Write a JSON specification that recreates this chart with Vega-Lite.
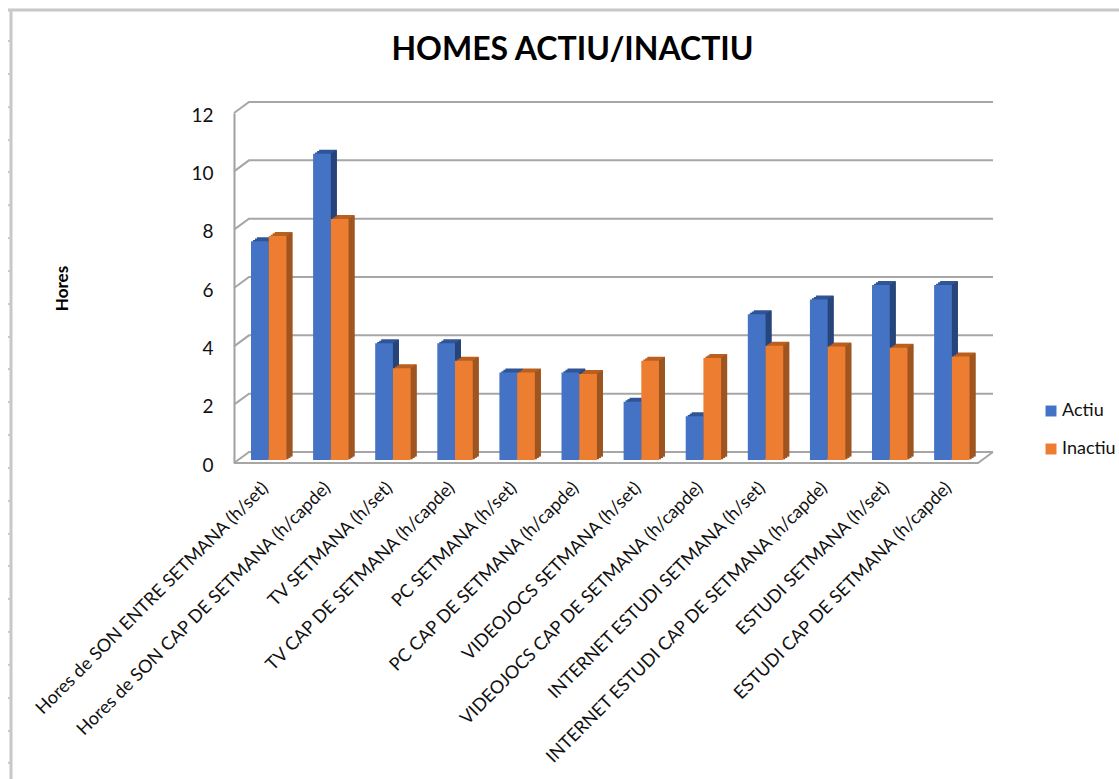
{
"$schema":"https://vega.github.io/schema/vega-lite/v6.json",
"width":759,"height":350,
"autosize":{"type":"none"},
"padding":{"left":234,"top":113,"right":126,"bottom":316},
"background":"white",
"config":{"font":"Lato","view":{"stroke":null}},
"title":{"text":"HOMES ACTIU/INACTIU","font":"Lato","fontSize":32,"fontWeight":"bold","color":"#000000","anchor":"middle","dx":-41,"offset":-63},
"datasets":{
"bars":[
{"category":"Hores de SON ENTRE SETMANA  (h/set)","series":"Actiu","hours":7.5},
{"category":"Hores de SON ENTRE SETMANA  (h/set)","series":"Inactiu","hours":7.68},
{"category":"Hores de SON CAP DE SETMANA (h/capde)","series":"Actiu","hours":10.5},
{"category":"Hores de SON CAP DE SETMANA (h/capde)","series":"Inactiu","hours":8.26},
{"category":"TV SETMANA (h/set)","series":"Actiu","hours":4},
{"category":"TV SETMANA (h/set)","series":"Inactiu","hours":3.15},
{"category":"TV CAP DE SETMANA (h/capde)","series":"Actiu","hours":4},
{"category":"TV CAP DE SETMANA (h/capde)","series":"Inactiu","hours":3.4},
{"category":"PC SETMANA (h/set)","series":"Actiu","hours":3},
{"category":"PC SETMANA (h/set)","series":"Inactiu","hours":3},
{"category":"PC CAP DE SETMANA (h/capde)","series":"Actiu","hours":3},
{"category":"PC CAP DE SETMANA (h/capde)","series":"Inactiu","hours":2.95},
{"category":"VIDEOJOCS SETMANA (h/set)","series":"Actiu","hours":2},
{"category":"VIDEOJOCS SETMANA (h/set)","series":"Inactiu","hours":3.4},
{"category":"VIDEOJOCS CAP DE SETMANA (h/capde)","series":"Actiu","hours":1.5},
{"category":"VIDEOJOCS CAP DE SETMANA (h/capde)","series":"Inactiu","hours":3.5},
{"category":"INTERNET ESTUDI SETMANA  (h/set)","series":"Actiu","hours":5},
{"category":"INTERNET ESTUDI SETMANA  (h/set)","series":"Inactiu","hours":3.92},
{"category":"INTERNET ESTUDI CAP DE SETMANA (h/capde)","series":"Actiu","hours":5.5},
{"category":"INTERNET ESTUDI CAP DE SETMANA (h/capde)","series":"Inactiu","hours":3.89},
{"category":"ESTUDI SETMANA  (h/set)","series":"Actiu","hours":6},
{"category":"ESTUDI SETMANA  (h/set)","series":"Inactiu","hours":3.85},
{"category":"ESTUDI CAP DE SETMANA (h/capde)","series":"Actiu","hours":6},
{"category":"ESTUDI CAP DE SETMANA (h/capde)","series":"Inactiu","hours":3.55}
],
"wall":[
{"path":"floor-front","along":0,"level":0},{"path":"floor-front","along":744,"level":0},{"path":"floor-front","along":759,"level":0.377},
{"path":"g0","along":0,"level":0},{"path":"g0","along":15,"level":0.377},{"path":"g0","along":759,"level":0.377},
{"path":"g2","along":0,"level":2},{"path":"g2","along":15,"level":2.377},{"path":"g2","along":759,"level":2.377},
{"path":"g4","along":0,"level":4},{"path":"g4","along":15,"level":4.377},{"path":"g4","along":759,"level":4.377},
{"path":"g6","along":0,"level":6},{"path":"g6","along":15,"level":6.377},{"path":"g6","along":759,"level":6.377},
{"path":"g8","along":0,"level":8},{"path":"g8","along":15,"level":8.377},{"path":"g8","along":759,"level":8.377},
{"path":"g10","along":0,"level":10},{"path":"g10","along":15,"level":10.377},{"path":"g10","along":759,"level":10.377},
{"path":"g12","along":0,"level":12},{"path":"g12","along":15,"level":12.377},{"path":"g12","along":759,"level":12.377}
],
"sheet":[
{"path":"top","along":-226,"level":15.53},{"path":"top","along":885,"level":15.53},
{"path":"left","along":-223,"level":15.53},{"path":"left","along":-223,"level":-11}
],
"ruler":[{"level":14.47},{"level":13.34},{"level":12.2},{"level":11.07},{"level":9.98},{"level":8.84},{"level":7.71},{"level":6.58},{"level":5.45},{"level":4.32},{"level":3.22},{"level":2.09},{"level":0.96},{"level":-0.17},{"level":-1.3},{"level":-2.43},{"level":-3.53},{"level":-4.66},{"level":-5.79},{"level":-6.92},{"level":-8.06},{"level":-9.19},{"level":-10.28}]
},
"layer":[
{"layer":[
{"data":{"name":"sheet"},"mark":{"type":"line","color":"#c8c8c8","strokeWidth":3},
 "encoding":{"x":{"field":"along","type":"quantitative","scale":{"domain":[0,759],"nice":false,"zero":false},"axis":null},
  "y":{"field":"level","type":"quantitative","scale":{"domain":[0,12],"nice":false,"zero":false},"axis":{"title":"Hores","titleFont":"Lato","titleFontSize":17,"titleFontWeight":"bold","titleColor":"#000000","titlePadding":119,"values":[0,2,4,6,8,10,12],"labelFont":"Lato","labelFontSize":19,"labelColor":"#111111","labelPadding":21,"labelOffset":2,"ticks":false,"grid":false,"domainColor":"#a0a0a0","domainWidth":2}},
  "detail":{"field":"path"}}},
{"data":{"name":"ruler"},"mark":{"type":"rule","color":"#c8c8c8","strokeWidth":2},
 "encoding":{"x":{"datum":-226,"type":"quantitative"},"x2":{"datum":-223},"y":{"field":"level","type":"quantitative"}}},
{"data":{"name":"wall"},"mark":{"type":"line","color":"#a6a6a6","strokeWidth":2},
 "encoding":{"x":{"field":"along","type":"quantitative"},"y":{"field":"level","type":"quantitative"},"detail":{"field":"path"}}}
]},
{"data":{"name":"bars"},
 "encoding":{
  "x":{"field":"category","type":"nominal","sort":null,
   "scale":{"paddingInner":0.43,"paddingOuter":0.326,"align":0.42},
   "axis":{"title":null,"orient":"bottom","labelAngle":-45,"labelAlign":"right","labelBaseline":"middle","labelFont":"Lato","labelFontSize":18,"labelColor":"#111111","labelLimit":600,"labelOverlap":false,"labelPadding":22,"labelOffset":-3,"ticks":false,"domain":false,"grid":false}},
  "y":{"field":"hours","type":"quantitative"}},
 "layer":[
  {"transform":[{"filter":"datum.series==='Actiu'"}],"mark":{"type":"bar","width":17.7,"color":"#2f5597","xOffset":-6.85,"yOffset":-4.3}},
  {"transform":[{"filter":"datum.series==='Actiu'"}],"mark":{"type":"bar","width":17.7,"color":"#2f5597","xOffset":-4.85,"yOffset":-5.7}},
  {"transform":[{"filter":"datum.series==='Actiu'"}],"mark":{"type":"bar","width":17.7,"color":"#2f5597","xOffset":-2.85,"yOffset":-7}},
  {"transform":[{"filter":"datum.series==='Actiu'"}],"mark":{"type":"bar","width":2,"color":"#264478","xOffset":1,"yOffset":-3.7}},
  {"transform":[{"filter":"datum.series==='Actiu'"}],"mark":{"type":"bar","width":2,"color":"#264478","xOffset":3,"yOffset":-5}},
  {"transform":[{"filter":"datum.series==='Actiu'"}],"mark":{"type":"bar","width":2,"color":"#264478","xOffset":5,"yOffset":-6.3}},
  {"transform":[{"filter":"datum.series==='Inactiu'"}],"mark":{"type":"bar","width":17.7,"color":"#b9601f","xOffset":10.85,"yOffset":-4.3}},
  {"transform":[{"filter":"datum.series==='Inactiu'"}],"mark":{"type":"bar","width":17.7,"color":"#b9601f","xOffset":12.85,"yOffset":-5.7}},
  {"transform":[{"filter":"datum.series==='Inactiu'"}],"mark":{"type":"bar","width":17.7,"color":"#b9601f","xOffset":14.85,"yOffset":-7}},
  {"transform":[{"filter":"datum.series==='Inactiu'"}],"mark":{"type":"bar","width":2,"color":"#9c5420","xOffset":18.7,"yOffset":-3.7}},
  {"transform":[{"filter":"datum.series==='Inactiu'"}],"mark":{"type":"bar","width":2,"color":"#9c5420","xOffset":20.7,"yOffset":-5}},
  {"transform":[{"filter":"datum.series==='Inactiu'"}],"mark":{"type":"bar","width":2,"color":"#9c5420","xOffset":22.7,"yOffset":-6.3}},
  {"transform":[{"filter":"datum.series==='Actiu'"}],"mark":{"type":"bar","width":17.7,"xOffset":-8.85,"yOffset":-3},
   "encoding":{"color":{"field":"series","type":"nominal","scale":{"domain":["Actiu","Inactiu"],"range":["#4472c4","#ed7d31"]},
    "legend":{"title":null,"orient":"none","legendX":808,"legendY":289,"symbolType":"square","symbolSize":120,"symbolStrokeWidth":0,"labelFont":"Lato","labelFontSize":18,"labelColor":"#111111","labelOffset":2,"rowPadding":20}}}},
  {"transform":[{"filter":"datum.series==='Inactiu'"}],"mark":{"type":"bar","width":17.7,"xOffset":8.85,"yOffset":-3},
   "encoding":{"color":{"field":"series","type":"nominal"}}}
 ]}
],
"resolve":{"scale":{"x":"independent"},"axis":{"x":"independent"}}
}
